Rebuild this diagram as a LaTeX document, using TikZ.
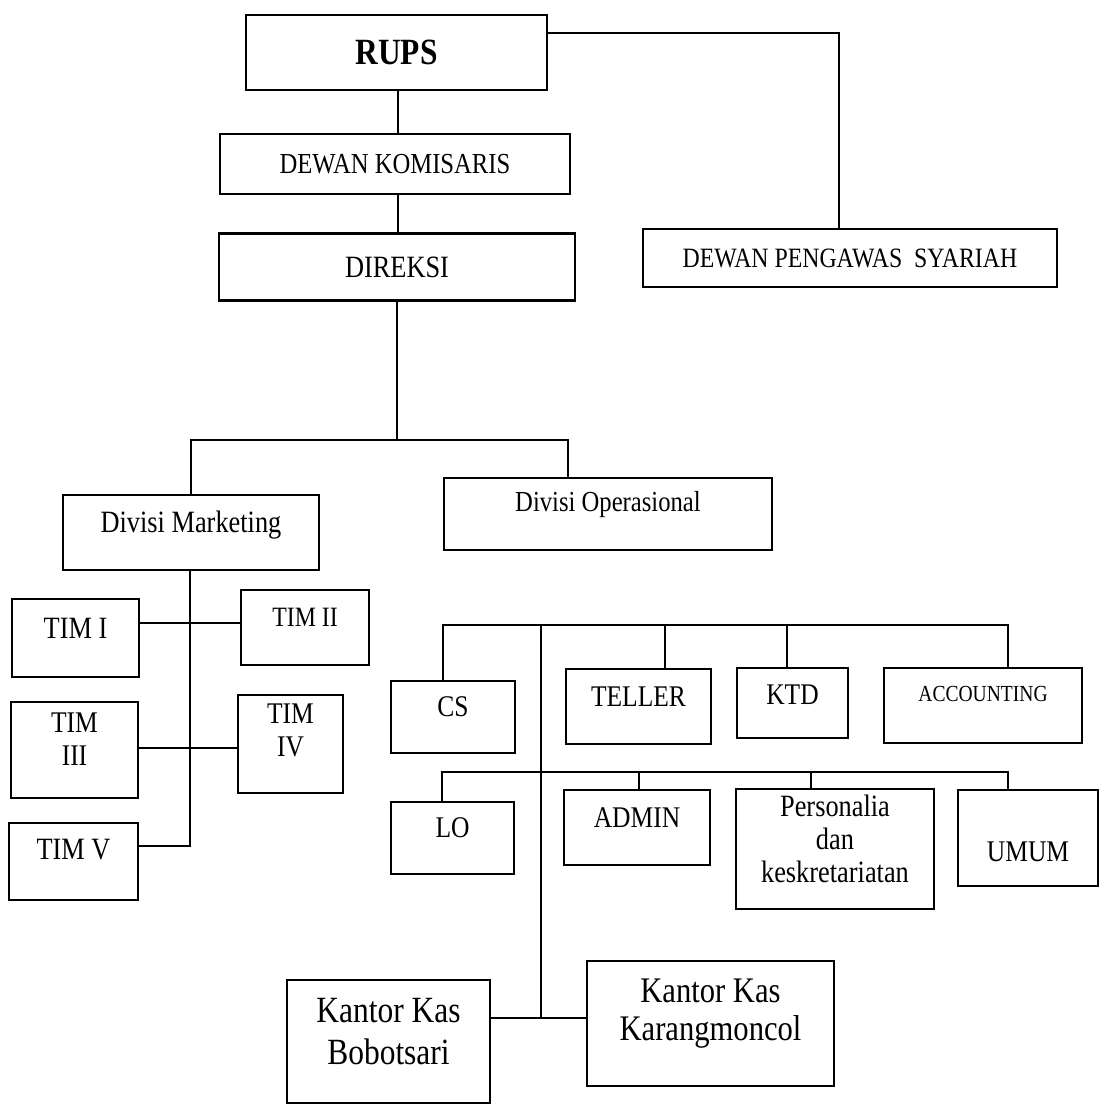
\documentclass[tikz,border=0pt]{standalone}
\usepackage{fontspec}
\setmainfont{Liberation Serif}[FakeStretch=0.85]
\newcommand{\rz}[2]{\raisebox{#1}[\height][\depth]{#2}}
\newcommand{\fsz}[1]{\fontsize{#1}{#1}\selectfont}
\begin{document}
\begin{tikzpicture}[x=1pt,y=-1pt,
  box/.style 2 args={draw, line width=2.8pt, inner sep=0pt, minimum width=#1pt, minimum height=#2pt},
  conn/.style={line width=2.6pt}]
\fill[white] (0,0) rectangle (1099,1114);
\useasboundingbox (0,0) rectangle (1099,1114);

% top levels
\node[box={301}{75}] (rups) at (396.5,52.5) {\fsz{37}\bfseries RUPS};
\node[box={350}{60}] (dk) at (395,164) {\fsz{29}DEWAN KOMISARIS};
\node[box={356}{67}] (dir) at (397,267) {\fsz{31}DIREKSI};
\node[box={414}{58}] (dps) at (850,258) {\fsz{28}DEWAN PENGAWAS\ \ SYARIAH};

% divisions
\node[box={256}{75}] (dm) at (191,532.5) {\fsz{31}\rz{7pt}{Divisi Marketing}};
\node[box={328}{72}] (dop) at (608,514) {\fsz{29}\rz{9pt}{Divisi Operasional}};

% marketing teams
\node[box={127}{78}] (t1) at (75.5,638) {\fsz{31}\rz{10pt}{TIM I}};
\node[box={128}{75}] (t2) at (305,627.5) {\fsz{28}\rz{10pt}{TIM II}};
\node[box={127}{96}] (t3) at (74.5,750) {\fontsize{30}{33}\selectfont\rz{8pt}{\begin{tabular}{@{}c@{}}TIM\\III\end{tabular}}};
\node[box={105}{98}] (t4) at (290.5,744) {\fontsize{30}{33}\selectfont\rz{11pt}{\begin{tabular}{@{}c@{}}TIM\\IV\end{tabular}}};
\node[box={129}{77}] (t5) at (73.5,861.5) {\fsz{31}\rz{12pt}{TIM V}};

% operational units
\node[box={124}{72}] (cs) at (453,717) {\fsz{30}\rz{10pt}{CS}};
\node[box={145}{75}] (tel) at (638.5,706.5) {\fsz{30}\rz{10pt}{TELLER}};
\node[box={111}{70}] (ktd) at (792.5,703) {\fsz{30}\rz{8pt}{KTD}};
\node[box={198}{75}] (acc) at (983,705.5) {\fsz{23}\rz{12pt}{ACCOUNTING}};
\node[box={123}{72}] (lo) at (452.5,838) {\fsz{30}\rz{10pt}{LO}};
\node[box={146}{75}] (adm) at (637,827.5) {\fsz{30}\rz{10pt}{ADMIN}};
\node[box={198}{120}] (per) at (835,849) {\fontsize{31}{33}\selectfont\rz{6pt}{\begin{tabular}{@{}c@{}}Personalia\\dan\\keskretariatan\end{tabular}}};
\node[box={140}{96}] (umum) at (1028,838) {\fsz{30}\rz{-14pt}{UMUM}};

% cash offices
\node[box={203}{123}] (bob) at (388.5,1041.5) {\fontsize{37}{42}\selectfont\rz{6pt}{\begin{tabular}{@{}c@{}}Kantor Kas\\Bobotsari\end{tabular}}};
\node[box={247}{125}] (kar) at (710.5,1023.5) {\fontsize{36}{38}\selectfont\rz{10pt}{\begin{tabular}{@{}c@{}}Kantor Kas\\Karangmoncol\end{tabular}}};

% connectors: top
\coordinate (cx) at (398,0);
\coordinate (jR) at (839,33);
\draw[conn] (rups.east |- jR) -- (jR) -- (jR |- dps.north);
\draw[conn] (rups.south -| cx) -- (dk.north -| cx);
\draw[conn] (dk.south -| cx) -- (dir.north -| cx);

% connectors: divisions
\coordinate (b1) at (397,440);
\coordinate (bL) at (191,440);
\coordinate (bR) at (568,440);
\draw[conn] (dir.south -| b1) -- (b1);
\draw[conn] (dm.north) -- (bL) -- (bR) -- (bR |- dop.north);

% connectors: marketing teams
\coordinate (mk) at (190,846);
\coordinate (h1) at (0,623);
\coordinate (h2) at (0,748);
\draw[conn] (dm.south -| mk) -- (mk) -- (mk -| t5.east);
\draw[conn] (t1.east |- h1) -- (t2.west |- h1);
\draw[conn] (t3.east |- h2) -- (t4.west |- h2);

% connectors: operational units
\coordinate (o1) at (443,625);
\coordinate (o2) at (1008,625);
\coordinate (oT) at (665,625);
\coordinate (oK) at (787,625);
\coordinate (sp) at (541,625);
\coordinate (sb) at (541,1018);
\draw[conn] (o1 |- cs.north) -- (o1) -- (o2) -- (o2 |- acc.north);
\draw[conn] (oT) -- (oT |- tel.north);
\draw[conn] (oK) -- (oK |- ktd.north);
\draw[conn] (sp) -- (sb);
\draw[conn] (bob.east |- sb) -- (kar.west |- sb);

\coordinate (p1) at (442,772);
\coordinate (p2) at (1008,772);
\coordinate (pA) at (639,772);
\coordinate (pP) at (811,772);
\draw[conn] (p1 |- lo.north) -- (p1) -- (p2) -- (p2 |- umum.north);
\draw[conn] (pA) -- (pA |- adm.north);
\draw[conn] (pP) -- (pP |- per.north);
\end{tikzpicture}
\end{document}
